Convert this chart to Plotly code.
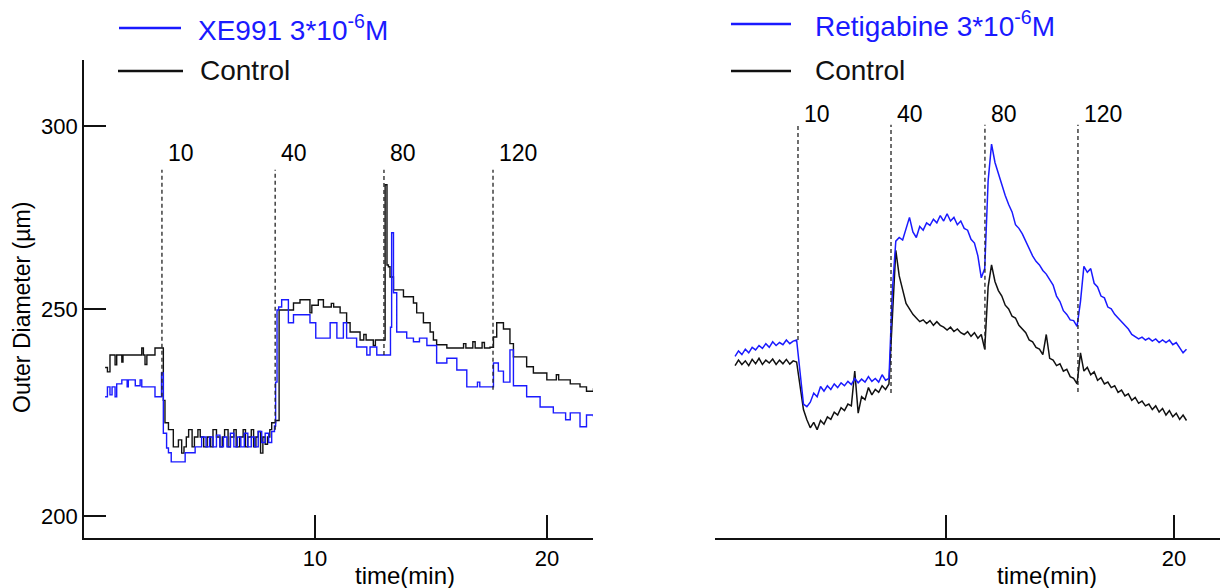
import plotly.graph_objects as go

BLUE = "#1a1aff"
BLACK = "#111111"
FONT = "Liberation Sans, Arial, sans-serif"

# ---- left panel: XE991 vs control (step-like diameter recordings) ----
ctl_left_t = [0.95, 1.05, 1.16, 1.38, 1.45, 1.67, 1.72, 2.53, 2.60, 2.67, 2.75, 3.10, 3.41,
              3.46, 3.53, 3.68, 3.89, 4.11, 4.25, 4.35, 4.45, 4.55, 4.70, 4.80, 4.95, 5.05,
              5.20, 5.35, 5.50, 5.60, 5.75, 5.90, 6.00, 6.10, 6.25, 6.35, 6.50, 6.60, 6.75,
              6.90, 7.00, 7.10, 7.25, 7.35, 7.45, 7.55, 7.65, 7.75, 7.85, 7.95, 8.05, 8.13,
              8.30, 8.45, 9.07, 9.35, 9.78, 9.86, 10.14, 10.36, 10.70, 10.80, 11.08, 11.36,
              11.51, 11.94, 12.10, 12.20, 12.51, 12.60, 12.87, 13.02, 13.10, 13.16, 13.23,
              13.38, 13.81, 14.24, 14.38, 14.67, 14.96, 15.10, 15.24, 15.68, 16.40, 16.50,
              16.80, 16.90, 17.20, 17.30, 17.54, 17.69, 17.83, 18.12, 18.40, 18.55, 19.12,
              19.41, 19.99, 20.40, 20.50, 21.00, 21.42, 21.70, 22.00]
ctl_left_v = [234.0, 232.8, 237.4, 234.7, 237.4, 235.5, 237.4, 239.3, 237.4, 234.8, 237.4, 239.3, 239.3,
              225.0, 218.9, 217.0, 212.3, 214.2, 210.6, 212.3, 215.0, 217.0, 212.3, 215.0, 217.0, 215.0,
              212.3, 215.0, 212.3, 217.0, 215.0, 212.3, 215.0, 217.0, 212.3, 215.0, 217.0, 212.3, 215.0,
              217.0, 212.3, 215.0, 217.0, 212.3, 215.0, 216.5, 210.6, 215.0, 213.0, 215.0, 217.0, 218.9,
              219.5, 249.7, 251.6, 252.5, 248.9, 251.0, 252.5, 250.5, 251.5, 250.5, 248.9, 246.2,
              243.7, 241.5, 243.0, 241.5, 240.0, 241.5, 241.5, 283.9, 262.0, 261.5, 258.7,
              255.2, 253.3, 251.6, 248.9, 246.2, 243.7, 241.5, 240.2, 239.3, 240.5, 239.3,
              241.0, 239.3, 240.8, 239.3, 239.5, 242.3, 246.2, 244.5, 240.5, 236.9, 234.2,
              232.5, 230.6, 232.0, 230.6, 229.5, 228.7, 227.5, 228.3]

xe_t = [0.95, 1.05, 1.16, 1.25, 1.38, 1.45, 1.67, 1.90, 1.95, 2.25, 2.46, 2.53, 3.10, 3.38,
        3.46, 3.60, 3.68, 3.80, 4.40, 4.83, 5.11, 5.30, 5.45, 5.60, 5.75, 5.90, 6.05, 6.20,
        6.35, 6.50, 6.65, 6.80, 6.95, 7.10, 7.25, 7.40, 7.55, 7.70, 7.85, 8.00, 8.13, 8.25,
        8.30, 8.36, 8.43, 8.56, 8.85, 9.07, 9.78, 10.03, 10.65, 10.94, 11.22, 11.36, 11.79,
        12.23, 12.37, 12.66, 13.25, 13.30, 13.38, 13.52, 13.95, 14.24, 14.50, 14.82, 15.24,
        15.68, 16.11, 16.54, 17.00, 17.10, 17.69, 17.90, 18.12, 18.40, 18.55, 19.12, 19.70,
        20.27, 20.80, 21.00, 21.42, 21.70, 22.00]
xe_v = [226.0, 228.7, 226.5, 228.7, 226.0, 229.5, 230.6, 228.7, 230.6, 229.0, 230.6, 228.7, 226.0, 232.5,
        216.0, 212.0, 210.7, 208.2, 210.7, 212.3, 215.0, 212.3, 215.0, 212.3, 215.5, 212.3, 215.0, 212.3,
        216.0, 212.3, 215.0, 212.3, 216.0, 212.3, 215.0, 212.3, 216.5, 213.5, 216.0, 213.5, 216.5, 218.0,
        230.0, 249.7, 250.5, 252.5, 246.2, 248.4, 246.2, 242.0, 246.2, 242.0, 246.2, 242.0, 239.6,
        237.4, 239.6, 237.4, 245.0, 270.8, 254.4, 243.7, 242.0, 241.0, 242.0, 240.0, 235.2,
        236.5, 233.3, 228.7, 230.0, 228.7, 235.2, 233.0, 230.0, 238.8, 229.0, 226.0, 223.2,
        221.6, 219.7, 221.6, 217.8, 221.0, 220.5]

# ---- right panel: retigabine vs control, one reading every 0.15 min from 0.75 min ----
right_t0 = 0.75
right_dt = 0.15
retig_v = [237.0, 238.5, 237.5, 239.0, 238.0, 239.5, 238.8, 240.0, 239.2, 240.5,
           239.5, 241.0, 240.0, 240.8, 240.2, 241.5, 240.5, 241.2, 241.5, 233.0,
           224.0, 223.3, 224.5, 227.0, 226.0, 228.8, 227.5, 229.0, 228.0, 229.5,
           228.5, 229.8, 229.0, 230.2, 229.3, 231.0, 229.8, 230.8, 230.0, 231.5,
           230.2, 231.0, 230.0, 232.0, 230.5, 231.0, 255.0, 268.5, 269.5, 268.8,
           272.0, 275.0, 271.0, 269.5, 272.5, 271.5, 273.5, 272.8, 274.5, 273.5,
           275.5, 274.0, 276.0, 274.0, 275.0, 273.0, 274.0, 272.0, 271.5, 269.0,
           268.0, 264.5, 258.5, 261.0, 285.0, 295.0, 290.0, 287.0, 283.5, 281.0,
           278.5, 276.5, 273.0, 272.0, 270.5, 268.5, 266.5, 264.5, 263.0, 262.0,
           260.5, 259.5, 258.0, 256.5, 253.5, 252.0, 249.5, 248.5, 247.0, 246.8,
           245.2, 252.0, 261.6, 260.0, 261.0, 257.0, 256.0, 253.5, 253.0, 250.5,
           250.0, 248.5, 247.5, 246.5, 245.5, 244.5, 243.0, 242.5, 241.8, 242.3,
           241.5, 242.0, 241.2, 241.8, 240.8, 241.5, 240.8, 241.5, 240.2, 240.8,
           239.5, 238.0, 239.0]
ctl_right_v = [234.5, 236.0, 234.8, 235.8, 234.5, 236.2, 235.0, 236.5, 234.8, 236.0,
               235.2, 236.3, 234.8, 236.0, 235.0, 236.2, 234.9, 235.8, 235.5, 229.0,
               222.5, 219.7, 217.5, 219.0, 217.0, 219.5, 218.5, 220.5, 219.8, 221.8,
               221.0, 223.0, 222.2, 224.0, 223.5, 233.0, 221.5, 226.0, 225.2, 228.5,
               226.5, 228.0, 227.2, 229.0, 228.0, 229.5, 250.0, 266.0, 259.0, 255.0,
               251.5, 250.0, 248.5, 247.5, 246.5, 247.0, 246.0, 246.8, 245.5, 246.5,
               245.5, 245.0, 244.2, 245.0, 243.8, 244.5, 243.5, 243.0, 243.8, 242.5,
               243.5, 242.0, 243.0, 239.0, 256.0, 262.0, 257.5, 255.0, 253.5, 251.0,
               250.0, 248.0, 247.5, 245.5, 244.5, 243.5, 241.5, 241.0, 239.5, 239.0,
               237.5, 243.0, 236.5, 236.0, 234.5, 235.0, 233.0, 233.5, 231.5, 231.0,
               229.5, 238.0, 233.0, 234.0, 232.0, 232.8, 230.5, 231.2, 229.5, 230.0,
               228.5, 229.0, 227.2, 227.8, 226.2, 226.8, 225.0, 225.8, 224.2, 224.8,
               223.5, 224.0, 222.5, 223.5, 221.8, 222.8, 221.0, 222.2, 220.5, 221.5,
               219.8, 221.0, 219.5]
right_t = [round(right_t0 + i * right_dt, 2) for i in range(len(retig_v))]

# drug additions (dashed markers) and their labels
event_labels = ["10", "40", "80", "120"]
left_event_t = [3.40, 8.28, 12.97, 17.67]
left_event_bottom = [226.0, 217.0, 237.4, 227.9]
right_event_t = [3.51, 7.59, 11.71, 15.79]
right_event_bottom = [241.5, 227.0, 238.8, 227.3]
left_event_top, right_event_top = 288.0, 300.3
left_label_y, right_label_y = 292.6, 303.3

y_tickvals = [193.4, 250, 300]
y_ticktext = ["200", "250", "300"]
y_range = [187.4, 318.0]

fig = go.Figure()
fig.add_trace(go.Scatter(x=ctl_left_t, y=ctl_left_v, mode="lines", line=dict(color=BLACK, width=1.4, shape="hv"),
                         xaxis="x", yaxis="y", showlegend=False))
fig.add_trace(go.Scatter(x=xe_t, y=xe_v, mode="lines", line=dict(color=BLUE, width=1.4, shape="hv"),
                         xaxis="x", yaxis="y", showlegend=False))
fig.add_trace(go.Scatter(x=right_t, y=ctl_right_v, mode="lines", line=dict(color=BLACK, width=1.5),
                         xaxis="x2", yaxis="y2", showlegend=False))
fig.add_trace(go.Scatter(x=right_t, y=retig_v, mode="lines", line=dict(color=BLUE, width=1.5),
                         xaxis="x2", yaxis="y2", showlegend=False))

shapes = []
annotations = []
for xr, yr, ts, bots, top, ly in [("x", "y", left_event_t, left_event_bottom, left_event_top, left_label_y),
                                  ("x2", "y2", right_event_t, right_event_bottom, right_event_top, right_label_y)]:
    for t, b, lab in zip(ts, bots, event_labels):
        shapes.append(dict(type="line", xref=xr, yref=yr, x0=t, x1=t, y0=b, y1=top,
                           line=dict(color="#222222", width=1.3, dash="4px,3px")))
        annotations.append(dict(xref=xr, yref=yr, x=t, y=ly, text=lab, showarrow=False,
                                xanchor="left", yanchor="middle", xshift=4,
                                font=dict(size=23, color="black", family=FONT)))

W, H = 1220, 588


def px(x):
    return x / W


def py(y):
    return 1 - y / H


# hand-placed legends (one per panel)
legend_items = [
    (119, 181, 28, 196, BLUE, "XE991 3*10<sup>-6</sup>M"),
    (118, 183, 71, 198, BLACK, "Control"),
    (731, 791, 24, 813, BLUE, "Retigabine 3*10<sup>-6</sup>M"),
    (731, 791, 71, 813, BLACK, "Control"),
]
for x0, x1, yy, tx, col, txt in legend_items:
    shapes.append(dict(type="line", xref="paper", yref="paper", x0=px(x0), x1=px(x1), y0=py(yy), y1=py(yy),
                       line=dict(color=col, width=2.5)))
    annotations.append(dict(xref="paper", yref="paper", x=px(tx), y=py(yy), text=txt, showarrow=False,
                            xanchor="left", yanchor="middle", font=dict(size=28, color=col, family=FONT)))

annotations.append(dict(xref="paper", yref="paper", x=px(22), y=py(308), text="Outer Diameter (µm)",
                        textangle=-90, showarrow=False, xanchor="center", yanchor="middle",
                        font=dict(size=23, color="black", family=FONT)))
for cx in [405, 1047]:
    annotations.append(dict(xref="paper", yref="paper", x=px(cx), y=py(575), text="time(min)",
                            showarrow=False, xanchor="center", yanchor="middle",
                            font=dict(size=24, color="black", family=FONT)))

axis_common = dict(showgrid=False, zeroline=False, showline=True, linecolor="#111111", linewidth=1.6,
                   ticks="inside", tickcolor="#111111", tickwidth=1.5,
                   tickfont=dict(size=22, color="black", family=FONT))

fig.update_layout(
    width=W, height=H, autosize=False,
    margin=dict(l=0, r=0, t=0, b=0),
    paper_bgcolor="white", plot_bgcolor="white",
    showlegend=False,
    xaxis=dict(domain=[84 / W, 593 / W], range=[0.04, 21.98], tickvals=[10, 20], ticklen=23,
               anchor="y", **axis_common),
    yaxis=dict(domain=[py(538), py(60)], range=y_range, tickvals=y_tickvals, ticktext=y_ticktext,
               ticklen=22, anchor="x", **axis_common),
    xaxis2=dict(domain=[715 / W, 1.0], range=[-0.13, 22.02], tickvals=[10, 20], ticklen=23,
                anchor="y2", **axis_common),
    yaxis2=dict(domain=[py(538), py(60)], range=y_range, anchor="x2", visible=False),
    shapes=shapes,
    annotations=annotations,
)

# the page body has a default 8px margin; drop it so the figure sits at the window origin
fig.write_html("out.html", config={"displayModeBar": False},
               post_script="document.body.style.margin='0px';")
